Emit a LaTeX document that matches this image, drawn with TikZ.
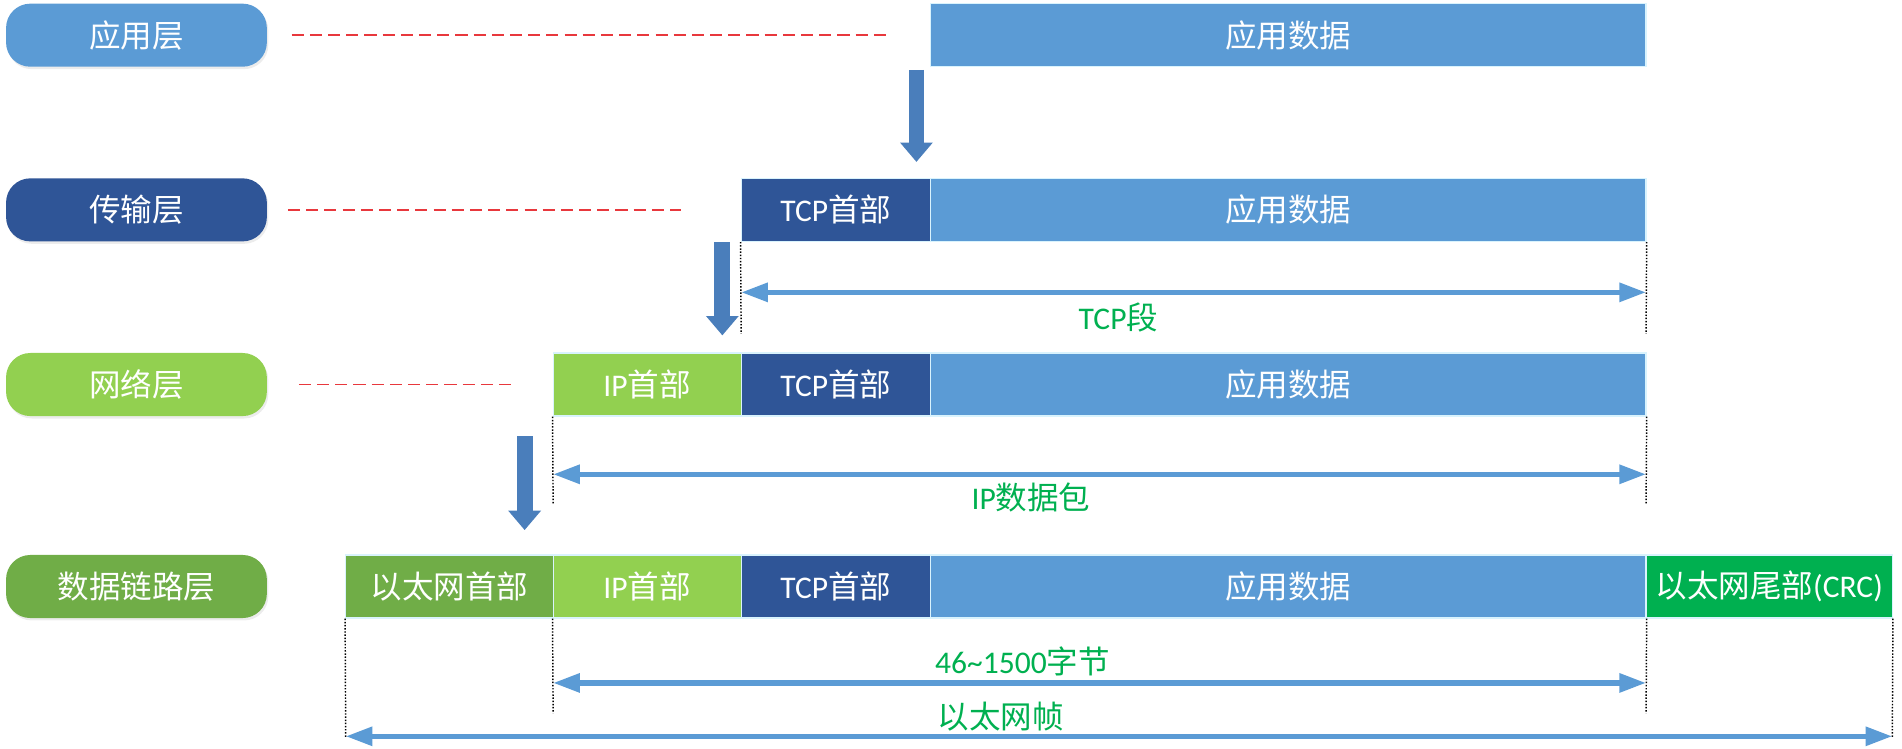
\documentclass[tikz,border=0pt]{standalone}
\usepackage{fontspec}
\setmainfont{Carlito}
\newfontfamily\cjk{Noto Sans CJK SC}
\usetikzlibrary{arrows.meta,shadows}
\definecolor{appblue}{HTML}{5B9BD5}
\definecolor{tcpblue}{HTML}{2F5597}
\definecolor{ipgreen}{HTML}{92D050}
\definecolor{ethgreen}{HTML}{70AD47}
\definecolor{crcgreen}{HTML}{00B050}
\definecolor{downblue}{HTML}{4A7EBB}
\definecolor{dashred}{HTML}{E8383D}

\begin{document}
\begin{tikzpicture}[x=50pt, y=-50pt,
  layer/.style={shape=rectangle, rounded corners=10pt, minimum width=107.5pt, minimum height=26pt, text=white, font=\cjk\fontsize{13}{15}\selectfont, drop shadow={opacity=0.15, shadow xshift=0.6pt, shadow yshift=-1pt}},
  field/.style={shape=rectangle, draw=white!85!cyan, line width=0.5pt, minimum height=26pt, inner sep=0pt, text=white, font=\fontsize{13}{15}\selectfont},
  layerline/.style={draw=dashred, line width=0.6pt, dash pattern=on 5pt off 2.5pt},
  guide/.style={draw=black, line width=0.6pt, dash pattern=on 0.6pt off 0.7pt},
  down/.style={draw=downblue, line width=6.5pt, -{Triangle[width=13pt, length=8pt]}},
  span/.style={draw=appblue, line width=2.2pt, {Triangle[width=7.5pt, length=11pt]}-{Triangle[width=7.5pt, length=11pt]}},
  spantext/.style={text=crcgreen, font=\fontsize{13}{15}\selectfont}]
\useasboundingbox (0,0) rectangle (15.68,6.17);
% layers
\node[layer, fill=appblue] (L1) at (1.125,0.29) {应用层};
\node[layer, fill=tcpblue] (L2) at (1.125,1.73) {传输层};
\node[layer, fill=ipgreen] (L3) at (1.125,3.17) {网络层};
\node[layer, fill=ethgreen] (L4) at (1.125,4.835) {数据链路层};
% application
\node[field, fill=appblue, minimum width=295pt] (D1) at (10.62,0.29) {\cjk 应用数据};
% transport
\node[field, fill=tcpblue, minimum width=78pt] (T2) at (6.89,1.73) {TCP{\cjk 首部}};
\node[field, fill=appblue, minimum width=295pt] (D2) at (10.62,1.73) {\cjk 应用数据};
% network
\node[field, fill=ipgreen, minimum width=77.5pt] (I3) at (5.335,3.17) {IP{\cjk 首部}};
\node[field, fill=tcpblue, minimum width=78pt] (T3) at (6.89,3.17) {TCP{\cjk 首部}};
\node[field, fill=appblue, minimum width=295pt] (D3) at (10.62,3.17) {\cjk 应用数据};
% data link
\node[field, fill=ethgreen, minimum width=85.5pt] (E4) at (3.705,4.835) {\cjk 以太网首部};
\node[field, fill=ipgreen, minimum width=77.5pt] (I4) at (5.335,4.835) {IP{\cjk 首部}};
\node[field, fill=tcpblue, minimum width=78pt] (T4) at (6.89,4.835) {TCP{\cjk 首部}};
\node[field, fill=appblue, minimum width=295pt] (D4) at (10.62,4.835) {\cjk 应用数据};
\node[field, fill=crcgreen, minimum width=101.5pt] (C4) at (14.585,4.835) {{\cjk 以太网尾部}(CRC)};
% dashed lines from the layers
\draw[layerline, shorten <=10pt, shorten >=16pt] (L1) -- (D1);
\draw[layerline, shorten <=8.5pt, shorten >=24.5pt] (L2) -- (T2);
\draw[layerline, shorten <=13pt, shorten >=15.5pt] (L3) -- (I3);
% encapsulation arrows
\draw[down] ([xshift=-5.5pt, yshift=-1pt]D1.south west) -- ([xshift=-5.5pt, yshift=6.5pt]D2.north west);
\draw[down] ([xshift=-7.5pt]T2.south west) -- ([xshift=-7.5pt, yshift=7pt]T3.north west);
\draw[down] ([xshift=-11.5pt, yshift=-8pt]I3.south west) -- ([xshift=-11.5pt, yshift=10pt]I4.north west);
% guide lines
\coordinate (g2l) at (6.11,2.75); \coordinate (g2r) at (13.57,2.75);
\coordinate (g3l) at (4.56,4.15); \coordinate (g3r) at (13.57,4.15);
\coordinate (g4a) at (2.85,6.08); \coordinate (g4b) at (4.56,5.88);
\coordinate (g4c) at (13.57,5.88); \coordinate (g4d) at (15.60,6.08);
\draw[guide] (T2.south west) -- (g2l);
\draw[guide] (D2.south east) -- (g2r);
\draw[guide] (I3.south west) -- (g3l);
\draw[guide] (D3.south east) -- (g3r);
\draw[guide] (E4.south west) -- (g4a);
\draw[guide] (I4.south west) -- (g4b);
\draw[guide] (D4.south east) -- (g4c);
\draw[guide] (C4.south east) -- (g4d);
% spans
\coordinate (s2l) at (6.11,2.41); \coordinate (s2r) at (13.57,2.41);
\coordinate (s3l) at (4.56,3.91); \coordinate (s3r) at (13.57,3.91);
\coordinate (s4l) at (4.56,5.63); \coordinate (s4r) at (13.57,5.63);
\coordinate (s5l) at (2.85,6.07); \coordinate (s5r) at (15.60,6.07);
\draw[span] (s2l) -- (s2r);
\draw[span] (s3l) -- (s3r);
\draw[span] (s4l) -- (s4r);
\draw[span] (s5l) -- (s5r);
\node[spantext] (n2) at (9.22,2.62) {TCP{\cjk 段}};
\node[spantext] (n3) at (8.50,4.10) {IP{\cjk 数据包}};
\node[spantext] (n4) at (8.43,5.45) {46\textasciitilde1500{\cjk 字节}};
\node[spantext] (n5) at (8.25,5.91) {\cjk 以太网帧};
\end{tikzpicture}
\end{document}
